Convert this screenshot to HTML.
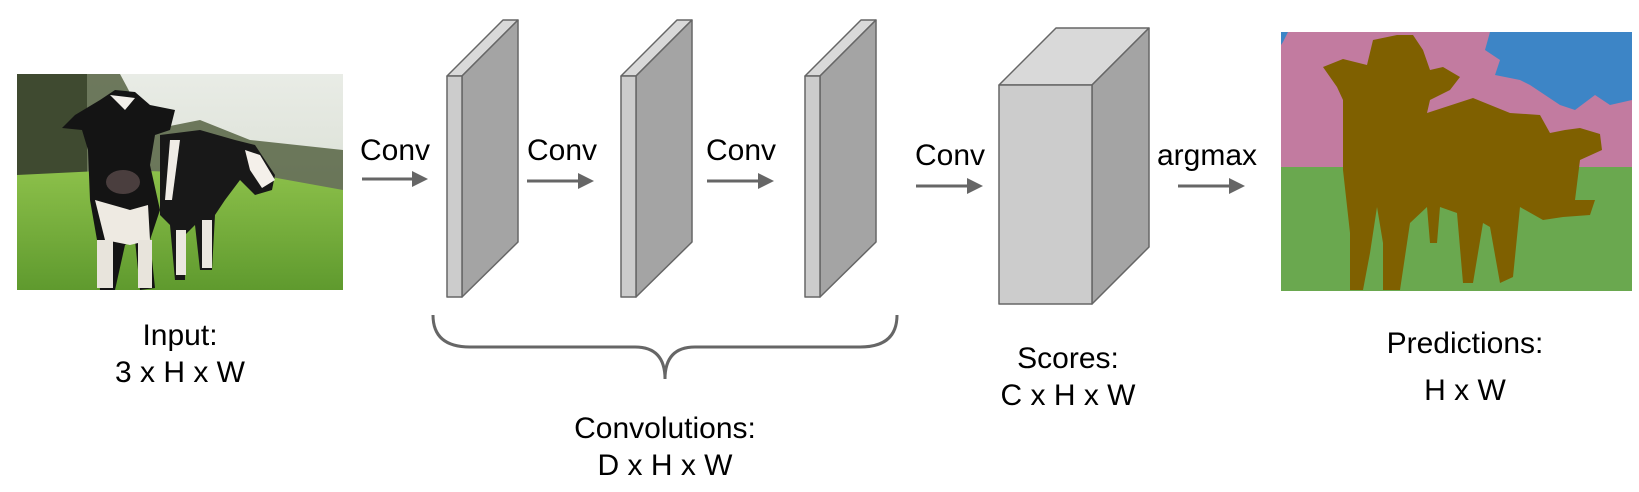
<!DOCTYPE html>
<html><head><meta charset="utf-8"><style>
html,body{margin:0;padding:0;background:#fff}
svg{display:block}
text{font-family:"Liberation Sans",Arial,sans-serif;font-size:30px;fill:#000}
</style></head><body>
<svg width="1639" height="492" viewBox="0 0 1639 492" xmlns="http://www.w3.org/2000/svg">
<defs>
<linearGradient id="sky" x1="0" y1="0" x2="0" y2="1"><stop offset="0" stop-color="#e9ece6"/><stop offset="1" stop-color="#cfd6c8"/></linearGradient>
<linearGradient id="grass" x1="0" y1="0" x2="0" y2="1"><stop offset="0" stop-color="#8cc04a"/><stop offset="1" stop-color="#5f9a2e"/></linearGradient>
</defs>
<!-- photo -->
<g>
<rect x="17" y="74" width="326" height="216" fill="url(#sky)"/>
<path d="M17 74 L120 74 L150 130 L200 120 L250 140 L343 150 L343 200 L17 200Z" fill="#4d5b3a" opacity="0.8"/>
<rect x="17" y="74" width="70" height="110" fill="#3f4a30"/>
<path d="M17 175 L120 170 L260 175 L343 190 L343 290 L17 290Z" fill="url(#grass)"/>
<!-- cow 1 -->
<path d="M75 115 L100 100 L115 90 L135 92 L150 105 L175 110 L170 130 L155 135 L150 165 L160 210 L150 240 L155 288 L140 290 L135 240 L125 245 L115 290 L100 290 L97 240 L90 200 L88 150 L82 130 L62 128 Z" fill="#141414"/>
<path d="M110 95 L135 98 L125 110 Z" fill="#f2f0ea"/>
<path d="M95 200 L130 210 L148 205 L150 240 L130 245 L105 240Z" fill="#eeeae2"/>
<rect x="97" y="240" width="16" height="48" fill="#e8e4dc"/><rect x="138" y="240" width="14" height="48" fill="#e8e4dc"/>
<ellipse cx="123" cy="182" rx="17" ry="12" fill="#4a3e3e"/>
<!-- cow 2 -->
<path d="M160 135 L200 130 L235 140 L255 145 L275 175 L272 190 L255 195 L240 180 L225 200 L215 215 L212 270 L200 270 L195 225 L185 235 L185 280 L175 280 L170 225 L160 215Z" fill="#181818"/>
<path d="M170 140 L180 140 L172 200 L165 200Z" fill="#f0ece6"/>
<path d="M245 150 L260 155 L275 180 L262 188 L250 170Z" fill="#f4f0ea"/>
<rect x="176" y="230" width="10" height="45" fill="#ebe7e0"/><rect x="202" y="220" width="10" height="48" fill="#ebe7e0"/>
</g>
<!-- arrows -->
<g stroke="#666" stroke-width="3" fill="#666">
<line x1="362" y1="179" x2="414" y2="179"/><polygon points="428,179 412,171 412,187" stroke="none"/>
<line x1="527" y1="181" x2="580" y2="181"/><polygon points="594,181 578,173 578,189" stroke="none"/>
<line x1="707" y1="181" x2="760" y2="181"/><polygon points="774,181 758,173 758,189" stroke="none"/>
<line x1="916" y1="186" x2="969" y2="186"/><polygon points="983,186 967,178 967,194" stroke="none"/>
<line x1="1178" y1="186" x2="1231" y2="186"/><polygon points="1245,186 1229,178 1229,194" stroke="none"/>
</g>
<text x="395" y="160" text-anchor="middle">Conv</text>
<text x="562" y="160" text-anchor="middle">Conv</text>
<text x="741" y="160" text-anchor="middle">Conv</text>
<text x="950" y="165" text-anchor="middle">Conv</text>
<text x="1207" y="165" text-anchor="middle">argmax</text>
<!-- slabs -->
<g stroke="#666" stroke-width="1.5" stroke-linejoin="round">
<g>
<polygon points="447,76 503,20 518,20 462,76" fill="#d9d9d9"/>
<polygon points="462,76 518,20 518,242 462,297" fill="#a4a4a4"/>
<rect x="447" y="76" width="15" height="221" fill="#cccccc"/>
</g>
<g transform="translate(174,0)">
<polygon points="447,76 503,20 518,20 462,76" fill="#d9d9d9"/>
<polygon points="462,76 518,20 518,242 462,297" fill="#a4a4a4"/>
<rect x="447" y="76" width="15" height="221" fill="#cccccc"/>
</g>
<g transform="translate(358,0)">
<polygon points="447,76 503,20 518,20 462,76" fill="#d9d9d9"/>
<polygon points="462,76 518,20 518,242 462,297" fill="#a4a4a4"/>
<rect x="447" y="76" width="15" height="221" fill="#cccccc"/>
</g>
<!-- cube -->
<polygon points="999,85 1056,28 1149,28 1092,85" fill="#d9d9d9"/>
<polygon points="1092,85 1149,28 1149,247 1092,304" fill="#a4a4a4"/>
<rect x="999" y="85" width="93" height="219" fill="#cccccc"/>
</g>
<!-- brace -->
<path d="M433 315 Q433 347 470 347 L635 347 Q665 347 665 379 Q665 347 695 347 L860 347 Q897 347 897 315" fill="none" stroke="#666" stroke-width="3"/>
<!-- labels -->
<text x="180" y="345" text-anchor="middle">Input:</text>
<text x="180" y="382" text-anchor="middle">3 x H x W</text>
<text x="665" y="438" text-anchor="middle">Convolutions:</text>
<text x="665" y="475" text-anchor="middle">D x H x W</text>
<text x="1068" y="368" text-anchor="middle">Scores:</text>
<text x="1068" y="405" text-anchor="middle">C x H x W</text>
<text x="1465" y="353" text-anchor="middle">Predictions:</text>
<text x="1465" y="400" text-anchor="middle">H x W</text>
<!-- segmentation -->
<g>
<rect x="1281" y="32" width="351" height="259" fill="#c27ba0"/>
<polygon points="1490,32 1632,32 1632,100 1610,105 1595,95 1575,110 1560,105 1545,95 1530,85 1520,80 1495,75 1500,60 1485,50" fill="#3d85c6"/>
<polygon points="1281,32 1288,32 1283,42 1281,45" fill="#3d85c6"/>
<rect x="1281" y="167" width="351" height="124" fill="#6aa84f"/>
<polygon points="1323,67 1343,59 1367,65 1373,40 1397,35 1413,35 1423,50 1430,70 1443,67 1460,77 1450,90 1430,100 1427,113 1473,98 1510,113 1540,115 1550,133 1565,130 1580,128 1600,134 1602,150 1580,160 1575,200 1595,200 1590,215 1563,217 1543,220 1520,207 1513,277 1500,283 1490,227 1483,223 1473,283 1463,283 1457,213 1440,207 1437,243 1430,243 1427,207 1410,223 1400,290 1383,290 1383,243 1377,207 1370,253 1363,290 1350,290 1350,233 1343,170 1343,100 1337,87" fill="#7f6000"/>
</g>
</svg>
</body></html>
